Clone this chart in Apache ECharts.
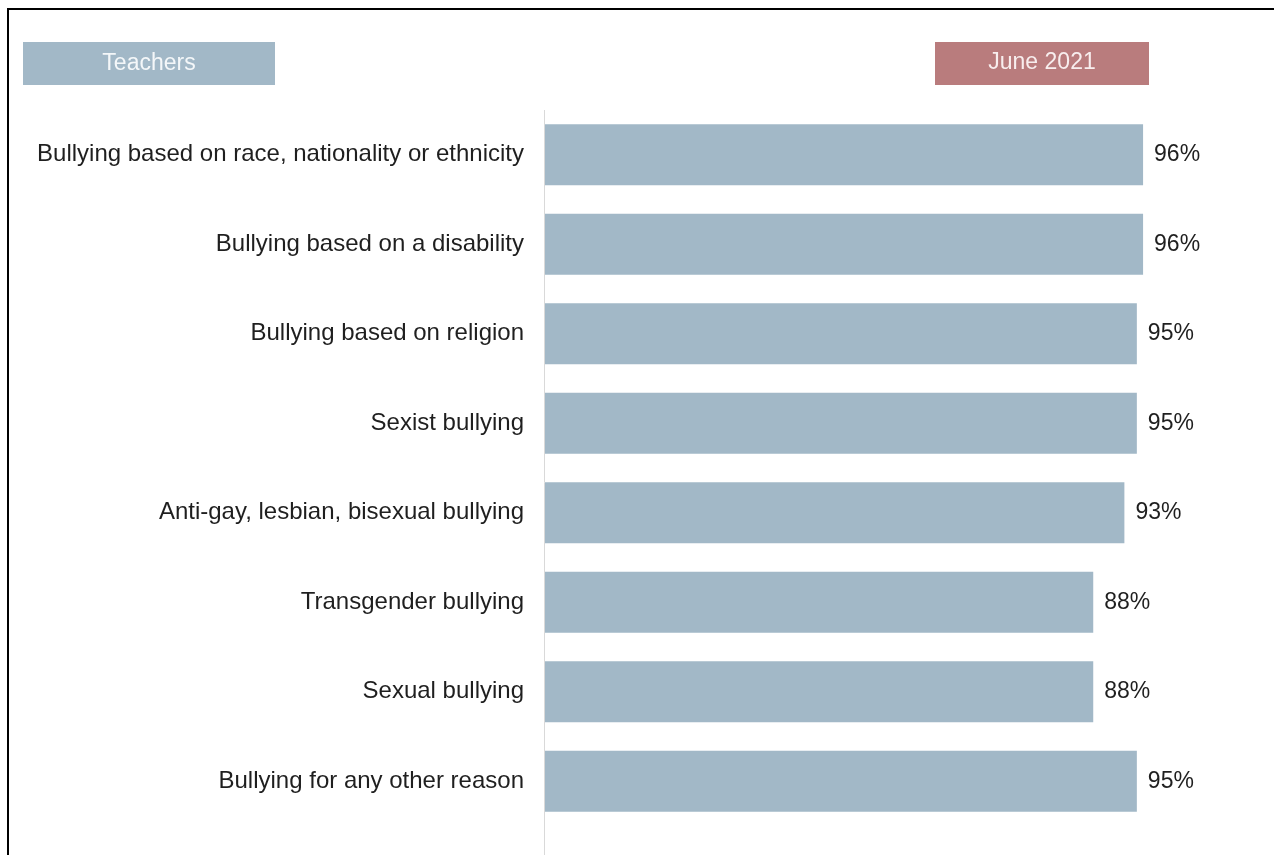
<!DOCTYPE html>
<html>
<head>
<meta charset="utf-8">
<script src="https://cdn.jsdelivr.net/npm/echarts@6/dist/echarts.min.js"></script>
<style>
  html, body { margin: 0; padding: 0; background: #ffffff; }
  #chart { width: 1274px; height: 855px; }
</style>
</head>
<body>
<div id="chart"></div>
<script>
// Share of teachers, by type of bullying
const categories = [
  'Bullying based on race, nationality or ethnicity',
  'Bullying based on a disability',
  'Bullying based on religion',
  'Sexist bullying',
  'Anti-gay, lesbian, bisexual bullying',
  'Transgender bullying',
  'Sexual bullying',
  'Bullying for any other reason'
];
const values = [96, 96, 95, 95, 93, 88, 88, 95];
const groupLabel = 'Teachers';
const periodLabel = 'June 2021';

const FONT = '"Liberation Sans", Arial, sans-serif';
const BAR = '#a2b8c7';
const TEXT = '#1f1f1f';

const chart = echarts.init(document.getElementById('chart'), null, { renderer: 'canvas' });

chart.setOption({
  animation: false,
  backgroundColor: '#ffffff',
  grid: { left: 545, right: 106, top: 110, bottom: 29, containLabel: false },
  xAxis: {
    type: 'value',
    min: 0,
    max: 100,
    show: false
  },
  yAxis: {
    type: 'category',
    data: categories,
    inverse: true,
    axisLine: { show: false },
    axisTick: { show: false },
    splitLine: { show: false },
    axisLabel: {
      margin: 21,
      fontFamily: FONT,
      fontSize: 24,
      color: TEXT
    }
  },
  series: [{
    type: 'bar',
    data: values,
    barCategoryGap: '32%',
    itemStyle: { color: BAR },
    label: {
      show: true,
      position: 'right',
      distance: 11,
      formatter: '{c}%',
      fontFamily: FONT,
      fontSize: 23,
      color: TEXT
    }
  }],
  graphic: [
    // outer frame
    {
      type: 'rect',
      shape: { x: 8, y: 9, width: 1400, height: 1000 },
      style: { fill: null, stroke: '#000000', lineWidth: 2 },
      silent: true
    },
    // category axis line
    {
      type: 'line',
      shape: { x1: 544.5, y1: 110, x2: 544.5, y2: 855 },
      style: { stroke: '#d9d9d9', lineWidth: 1 },
      silent: true
    },
    // header badges
    {
      type: 'group',
      left: 23,
      top: 42,
      children: [
        { type: 'rect', shape: { x: 0, y: 0, width: 252, height: 43 }, style: { fill: BAR } },
        {
          type: 'text', x: 126, y: 22,
          style: { text: groupLabel, fill: '#f4f7f9', font: '23px ' + FONT, align: 'center', verticalAlign: 'middle' }
        }
      ]
    },
    {
      type: 'group',
      left: 935,
      top: 42,
      children: [
        { type: 'rect', shape: { x: 0, y: 0, width: 214, height: 43 }, style: { fill: '#b97c7d' } },
        {
          type: 'text', x: 107, y: 21,
          style: { text: periodLabel, fill: '#f8eeee', font: '23px ' + FONT, align: 'center', verticalAlign: 'middle' }
        }
      ]
    }
  ]
});
</script>
</body>
</html>
